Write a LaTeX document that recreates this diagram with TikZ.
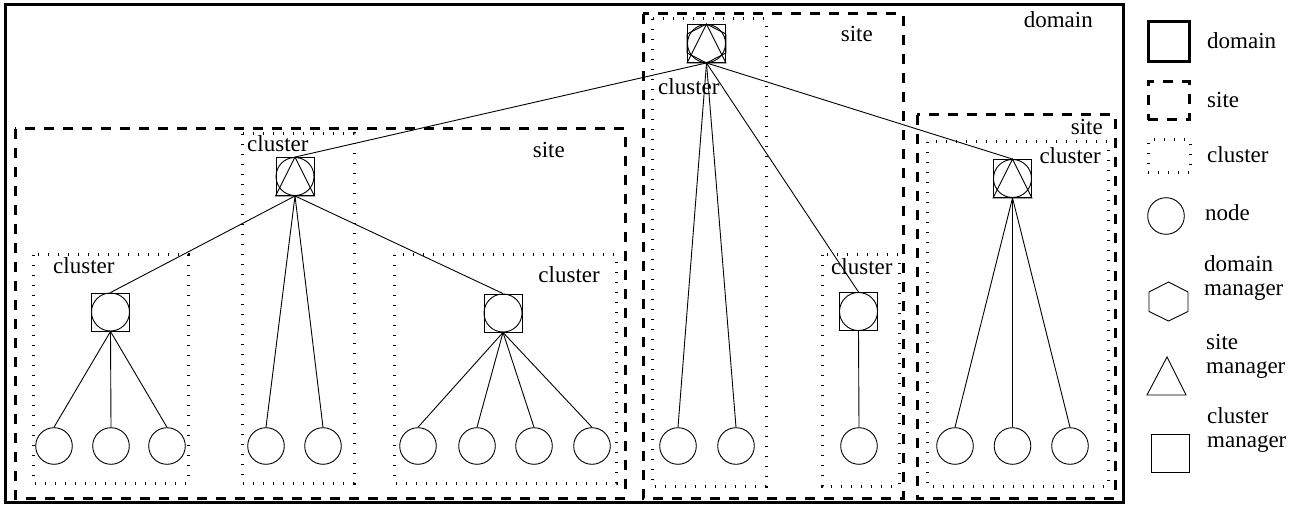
\documentclass[tikz,border=0pt]{standalone}
\usepackage{fontspec}
\setmainfont{Liberation Serif}
\begin{document}
\begin{tikzpicture}[x=1pt,y=-1pt,
  font=\fontsize{23}{24}\selectfont,
  thin line/.style={line width=0.9pt},
  domainbox/.style={line width=3pt},
  sitebox/.style={line width=3pt, dash pattern=on 10pt off 9pt},
  clusterbox/.style={line width=3pt, dash pattern=on 1.1pt off 8.9pt},
  mgr/.style={rectangle, draw, thin line, minimum size=38pt, inner sep=0pt},
  leaf/.style={circle, draw, thin line, minimum size=36.6pt, inner sep=0pt},
  lbl/.style={inner sep=0pt, anchor=base west},
  lblr/.style={inner sep=0pt, anchor=base east},
  edge/.style={thin line}
]
\useasboundingbox (0,0) rectangle (1296,505);

% containers
\draw[domainbox] (5,5) rectangle (1123,502);
\draw[sitebox] (15,129) rectangle (625,498);
\draw[sitebox] (643,14) rectangle (903,498);
\draw[sitebox] (917,115) rectangle (1115,498);
\draw[clusterbox] (33,255) rectangle (188,483);
\draw[clusterbox] (242,134) rectangle (354,483);
\draw[clusterbox] (394,255) rectangle (616,483);
\draw[clusterbox] (652,19) rectangle (766,486);
\draw[clusterbox] (822,255) rectangle (899,486);
\draw[clusterbox] (927,142) rectangle (1108,486);

% labels
\node[lblr] (tdomain) at (1093,28) {domain};
\node[lblr] (tsite1) at (565,158) {site};
\node[lblr] (tsite2) at (873,42) {site};
\node[lblr] (tsite3) at (1103,135) {site};
\node[lbl] (tcl1) at (53,273) {cluster};
\node[lbl] (tcl2) at (247,152) {cluster};
\node[lblr] (tcl3) at (600,283) {cluster};
\node[lbl] (tcl4) at (658,95) {cluster};
\node[lbl] (tcl5) at (831,274) {cluster};
\node[lblr] (tcl6) at (1101,164) {cluster};

% managers
\node[mgr] (D) at (706.5,43.5) {};
\node[mgr] (S1) at (295,176.5) {};
\node[mgr] (S3) at (1012.5,178.5) {};
\node[mgr] (C1) at (110.5,312) {};
\node[mgr] (C2) at (503,313) {};
\node[mgr] (C3) at (858.5,311.5) {};
\foreach \m in {D,S1,S3,C1,C2,C3}{
  \draw[thin line] (\m.center) circle (19pt);
}
\foreach \m in {D,S1,S3}{
  \draw[thin line] (\m.north) -- (\m.south west) -- (\m.south east) -- cycle;
}
\draw[thin line] (D.north) -- ([yshift=9.5pt]D.east) -- ([yshift=-9.5pt]D.east) -- (D.south)
  -- ([yshift=-9.5pt]D.west) -- ([yshift=9.5pt]D.west) -- cycle;

% leaves
\node[leaf] (a1) at (54,446) {};
\node[leaf] (a2) at (111,446) {};
\node[leaf] (a3) at (167,446) {};
\node[leaf] (b1) at (266,446) {};
\node[leaf] (b2) at (323,446) {};
\node[leaf] (c1) at (418,446) {};
\node[leaf] (c2) at (477,446) {};
\node[leaf] (c3) at (534,446) {};
\node[leaf] (c4) at (592,446) {};
\node[leaf] (d1) at (678,446) {};
\node[leaf] (d2) at (736,446) {};
\node[leaf] (e1) at (859,446) {};
\node[leaf] (f1) at (955,446) {};
\node[leaf] (f2) at (1012.5,446) {};
\node[leaf] (f3) at (1070,446) {};

% edges
\foreach \c in {S1,d1,d2,C3,S3}{ \draw[edge] (D.south) -- (\c.north); }
\foreach \c in {C1,b1,b2,C2}{ \draw[edge] (S1.south) -- (\c.north); }
\foreach \c in {a1,a2,a3}{ \draw[edge] (C1.south) -- (\c.north); }
\foreach \c in {c1,c2,c3,c4}{ \draw[edge] (C2.south) -- (\c.north); }
\draw[edge] (C3.south) -- (e1.north);
\foreach \c in {f1,f2,f3}{ \draw[edge] (S3.south) -- (\c.north); }

% legend
\node[rectangle, draw, domainbox, minimum width=41pt, minimum height=40pt, inner sep=0pt] (Ldom) at (1168.5,42) {};
\node[rectangle, draw, sitebox, minimum width=41pt, minimum height=38pt, inner sep=0pt] (Lsite) at (1168.5,101) {};
\node[rectangle, draw, clusterbox, minimum width=42pt, minimum height=33pt, inner sep=0pt] (Lcl) at (1169,156.5) {};
\node[leaf] (Lnode) at (1166,216) {};
\draw[thin line] (1168.5,282) -- (1188,292) -- (1188,311.5) -- (1168.5,321) -- (1149,311.5) -- (1149,292) -- cycle;
\draw[thin line] (1167,357) -- (1186,395) -- (1147,395) -- cycle;
\node[mgr] (Lcm) at (1170,453.5) {};

\node[lbl] (ldom) at (1207,49) {domain};
\node[lbl] (lsite) at (1207,108) {site};
\node[lbl] (lcl) at (1207,163) {cluster};
\node[lbl] (lnode) at (1205,221) {node};
\node[lbl, align=left] (ldm) at (1204,295) {domain\\manager};
\node[lbl, align=left] (lsm) at (1206,373) {site\\manager};
\node[lbl, align=left] (lcm) at (1207,447) {cluster\\manager};
\end{tikzpicture}
\end{document}
